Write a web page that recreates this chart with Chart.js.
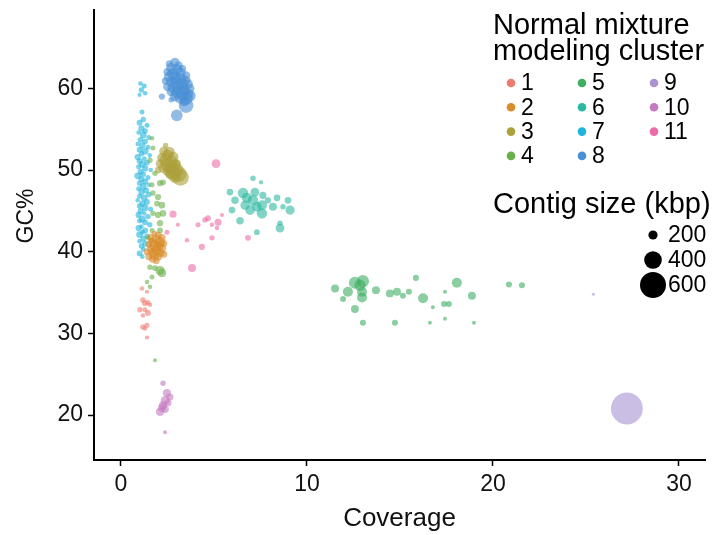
<!DOCTYPE html>
<html>
<head>
<meta charset="utf-8">
<script src="https://cdn.jsdelivr.net/npm/chart.js@4.4.1/dist/chart.umd.min.js"></script>
<style>
  html, body { margin: 0; padding: 0; background: #ffffff; }
  #wrap { width: 716px; height: 535px; position: relative; }
</style>
</head>
<body>
<div id="wrap"><canvas id="c" width="716" height="535"></canvas></div>
<script>
// ---------------- DATA ----------------
const clusterLabels = ['1','2','3','4','5','6','7','8','9','10','11'];
const xTicks = [0, 10, 20, 30];
const yTicks = [20, 30, 40, 50, 60];
const sizeLegendValues = [200, 400, 600];

// cluster 1
const c1Coverage = [1.13,1.40,1.18,1.45,1.29,1.56,1.02,1.29,1.45,1.18,1.40,1.18,1.29,1.40];
const c1GC = [35.5,35.1,34.1,33.8,33.7,33.5,32.9,32.9,32.5,32.2,31.0,30.8,30.6,29.5];
const c1Size = [90,80,110,100,120,90,110,100,120,90,100,110,90,80];
// cluster 2
const c2Coverage = [1.8,2.0,1.6,2.2,1.9,1.7,2.1,2.3,1.5,1.8,2.0,2.2,1.6,1.9,1.4,1.7,2.1,2.3,1.8,1.5,2.0,1.7,1.9,2.1,1.6];
const c2GC = [42.2,42.0,41.8,41.7,41.5,41.2,41.2,41.0,40.9,40.8,40.6,40.4,40.4,40.2,40.0,39.9,39.9,39.7,39.6,39.4,39.4,39.1,38.9,40.9,41.4];
const c2Size = [120,150,140,160,200,180,220,150,130,240,200,180,170,230,140,200,190,150,220,150,170,160,140,160,120];
// cluster 3
const c3Coverage = [2.4,2.3,2.6,2.5,2.2,2.8,2.4,2.7,2.1,2.5,2.9,2.3,2.7,3.0,2.5,2.8,3.1,3.2,2.9,2.6,2.0,3.0];
const c3GC = [53.0,52.3,52.2,51.8,51.5,51.6,51.2,51.0,50.8,50.6,50.6,50.3,50.2,50.0,49.9,49.6,49.5,49.1,49.2,49.5,50.0,50.8];
const c3Size = [110,200,240,260,210,240,280,300,190,300,260,240,280,300,220,320,360,380,280,190,140,170];
// cluster 4
const c4Coverage = [1.67,1.72,1.56,1.83,2.10,1.67,2.26,1.72,1.99,1.94,2.20,1.72,1.99,2.26,2.10,1.67,2.10,1.45,1.56,1.83,2.10,2.20,1.67,1.40,1.56,1.83];
const c4GC = [53.9,52.7,51.2,49.6,48.4,48.2,48.5,47.2,46.7,45.9,45.7,44.7,44.5,44.7,43.5,42.6,42.6,41.7,38.1,38.0,37.7,37.4,36.9,36.3,35.7,26.7];
const c4Size = [90,100,110,110,130,100,120,110,130,120,140,110,130,140,130,100,120,90,110,120,200,190,100,90,90,80];
// cluster 5
const c5Coverage = [11.51,12.20,12.58,13.01,12.85,12.96,12.96,11.94,12.58,13.71,14.46,14.84,15.16,15.48,15.86,16.24,16.77,17.42,17.37,17.63,18.06,18.87,13.01,14.73,16.61,17.42,18.98,20.86,21.56];
const c5GC = [35.5,35.1,36.2,36.4,35.9,35.1,34.4,34.2,33.0,35.3,34.9,35.1,34.6,35.1,36.8,34.3,33.2,35.1,33.6,33.6,36.2,34.6,31.3,31.3,31.3,31.8,31.3,36.0,35.9];
const c5Size = [170,220,270,270,250,220,220,124,170,170,170,170,124,124,124,220,76,76,124,124,220,170,124,124,76,76,76,124,124];
// cluster 6
const c6Coverage = [7.10,7.53,5.86,6.56,7.20,7.63,6.13,6.77,7.10,7.58,8.39,8.98,8.17,8.71,9.09,5.97,6.94,7.58,6.40,8.55,8.55,7.31,6.67,7.31,7.90];
const c6GC = [49.0,48.5,47.3,47.2,47.3,46.9,46.3,46.6,46.3,45.7,46.6,46.3,45.5,45.5,45.1,45.1,45.1,44.7,43.8,43.5,42.9,42.4,45.7,45.5,46.3];
const c6Size = [110,80,140,230,190,150,160,220,230,220,140,140,170,110,200,140,210,230,160,110,190,120,200,210,130];
// cluster 7
const c7Coverage = [1.05,1.25,1.1,1.3,1.0,1.13,1.2,1.0,1.4,1.1,1.3,0.95,1.2,1.5,1.05,1.3,0.9,1.15,1.45,1.0,1.3,1.1,1.55,0.9,1.25,1.0,1.4,1.15,0.95,1.3,1.6,1.05,1.2,0.9,1.45,1.1,1.3,1.0,1.5,1.2,0.95,1.35,1.1,1.5,1.0,1.25,0.9,1.4,1.15,1.0,1.3,1.6,1.05,1.25,0.95,1.45,1.15,1.0,1.3,1.55,1.1,0.95,1.3,1.15,1.0,1.4,1.2,1.0,1.3,1.1,1.2,1.0,1.15];
const c7GC = [60.6,60.3,59.8,59.4,59.2,57.1,56.2,55.8,55.5,55.1,54.8,54.6,54.3,54.0,53.7,53.5,53.2,53.0,52.8,52.5,52.3,52.0,51.8,51.6,51.4,51.1,50.9,50.7,50.4,50.2,50.0,49.8,49.5,49.3,49.1,48.9,48.6,48.4,48.2,48.0,47.7,47.5,47.3,47.0,46.8,46.6,46.3,46.1,45.9,45.6,45.4,45.2,45.0,44.7,44.5,44.3,44.0,43.8,43.6,43.3,43.1,42.9,42.6,42.4,42.1,41.9,41.6,41.3,41.0,40.7,40.3,39.8,39.4];
const c7Size = [90,100,110,90,80,100,110,120,100,130,110,90,140,100,120,110,90,130,100,120,140,110,90,130,100,120,110,140,100,130,90,120,110,140,100,130,120,110,90,140,100,120,130,110,100,140,90,120,130,110,140,100,120,90,130,110,140,100,120,110,90,130,120,100,140,110,120,90,130,110,100,120,90];
// cluster 8
const c8Coverage = [2.6,2.9,3.1,2.7,3.0,3.3,2.5,2.8,3.2,3.5,2.6,2.9,3.2,3.5,2.4,2.7,3.0,3.3,3.6,2.5,2.8,3.1,3.4,3.7,2.7,3.0,3.3,3.6,2.9,3.2,3.5,3.7,3.4,2.2,2.7,3.5,3.0];
const c8GC = [63.0,63.2,62.8,62.5,62.3,62.4,62.0,61.8,61.9,61.6,61.4,61.3,61.2,61.0,60.9,60.8,60.7,60.6,60.5,60.2,60.1,60.0,59.9,60.0,59.6,59.5,59.4,59.3,59.0,58.9,58.8,59.1,58.4,59.0,58.6,57.9,56.7];
const c8Size = [150,200,180,220,250,160,170,260,230,180,240,280,250,200,160,230,300,260,220,190,250,280,240,200,200,260,300,240,220,280,300,260,220,130,110,330,260];
// cluster 9
const c9Coverage = [25.4, 27.2];
const c9GC = [34.8, 20.8];
const c9Size = [55, 740];
// cluster 10
const c10Coverage = [2.26,2.47,2.63,2.37,2.26,2.53,2.20,2.10,2.37,2.37];
const c10GC = [23.9,22.7,22.2,21.8,21.2,21.5,20.9,20.4,20.7,17.9];
const c10Size = [110,170,150,190,170,150,170,180,160,80];
// cluster 11
const c11Coverage = [5.11,2.80,3.06,2.47,3.55,4.14,4.52,4.68,4.89,5.16,5.22,5.43,4.89,4.35,3.82,6.83];
const c11GC = [50.8,44.6,43.3,42.4,41.4,43.3,43.9,44.1,43.3,42.9,43.6,44.5,41.7,40.6,38.0,41.7];
const c11Size = [190,150,80,100,90,100,110,120,90,90,150,80,110,130,170,120];

// ---------------- STYLE ----------------
const clusterColors = ['#EE7B70','#D98C2A','#ABA03A','#6AB04A','#3DAE62','#2DB8A0','#1EB4DC','#4A90D6','#A993D2','#C47ABF','#EC6BA8'];
const FONT = '"Liberation Sans", Arial, Helvetica, sans-serif';

function radiusFor(kbp) { return 0.021 * kbp + 0.4; }
function withAlpha(hex, a) {
  const n = parseInt(hex.slice(1), 16);
  return `rgba(${(n>>16)&255},${(n>>8)&255},${n&255},${a})`;
}

const clusterCov = [c1Coverage,c2Coverage,c3Coverage,c4Coverage,c5Coverage,c6Coverage,c7Coverage,c8Coverage,c9Coverage,c10Coverage,c11Coverage];
const clusterGC = [c1GC,c2GC,c3GC,c4GC,c5GC,c6GC,c7GC,c8GC,c9GC,c10GC,c11GC];
const clusterSize = [c1Size,c2Size,c3Size,c4Size,c5Size,c6Size,c7Size,c8Size,c9Size,c10Size,c11Size];

const datasets = clusterLabels.map((lab, k) => ({
  label: lab,
  data: clusterCov[k].map((x, i) => ({ x: x, y: clusterGC[k][i], r: radiusFor(clusterSize[k][i]) })),
  backgroundColor: withAlpha(clusterColors[k], 0.6),
  borderWidth: 0,
  hoverBorderWidth: 0,
  hoverRadius: 0
}));

const legendPlugin = {
  id: 'ggLegend',
  afterDatasetsDraw(chart) {
    const ctx = chart.ctx;
    ctx.save();
    ctx.fillStyle = '#000';
    ctx.textAlign = 'left';
    ctx.textBaseline = 'alphabetic';
    ctx.font = '29px ' + FONT;
    ctx.fillText('Normal mixture', 493, 34);
    ctx.fillText('modeling cluster', 493, 60);
    const colDot = [511, 582, 654];
    ctx.font = '23px ' + FONT;
    ctx.textBaseline = 'middle';
    clusterLabels.forEach((lab, i) => {
      const col = Math.floor(i / 4), row = i % 4;
      const y = 83 + row * 24.3;
      ctx.beginPath();
      ctx.fillStyle = clusterColors[i];
      ctx.arc(colDot[col], y, 4.3, 0, Math.PI * 2);
      ctx.fill();
      ctx.fillStyle = '#000';
      ctx.fillText(lab, colDot[col] + 10, y + 1);
    });
    ctx.textBaseline = 'alphabetic';
    ctx.font = '29px ' + FONT;
    ctx.fillText('Contig size (kbp)', 493, 213);
    ctx.font = '23px ' + FONT;
    ctx.textBaseline = 'middle';
    sizeLegendValues.forEach((v, i) => {
      const y = 235 + i * 25;
      ctx.beginPath();
      ctx.fillStyle = '#000';
      ctx.arc(653, y, radiusFor(v), 0, Math.PI * 2);
      ctx.fill();
      ctx.fillText(String(v), 668, y + 1);
    });
    // y-axis title
    ctx.save();
    ctx.translate(27, 216);
    ctx.rotate(-Math.PI / 2);
    ctx.textAlign = 'center';
    ctx.textBaseline = 'middle';
    ctx.fillStyle = '#111';
    ctx.font = '23px ' + FONT;
    ctx.fillText('GC%', 0, 0);
    ctx.restore();
    ctx.restore();
  }
};

function fixPadding(s) { s.paddingTop = 0; s.paddingBottom = 0; s.paddingLeft = 0; s.paddingRight = 0; }

new Chart(document.getElementById('c'), {
  type: 'bubble',
  data: { datasets },
  options: {
    responsive: false,
    animation: false,
    events: [],
    layout: { autoPadding: false, padding: { top: 10, right: 11, left: 0, bottom: 0 } },
    plugins: { legend: { display: false }, tooltip: { enabled: false } },
    scales: {
      x: {
        type: 'linear',
        min: -1.45, max: 31.4,
        afterBuildTicks: (s) => { s.ticks = xTicks.map(v => ({ value: v })); },
        afterFit: (s) => { s.height = 75; fixPadding(s); },
        grid: { drawOnChartArea: false, drawTicks: true, tickLength: 6, tickColor: '#000', tickWidth: 1.5 },
        border: { display: true, color: '#000', width: 2 },
        ticks: { color: '#111', font: { family: FONT, size: 23 }, padding: 5, maxRotation: 0 },
        title: { display: true, text: 'Coverage', color: '#111', font: { family: FONT, size: 26 }, padding: { top: 0, bottom: 1 } }
      },
      y: {
        type: 'linear',
        min: 14.5, max: 69.6,
        afterBuildTicks: (s) => { s.ticks = yTicks.map(v => ({ value: v })); },
        afterFit: (s) => { s.width = 94; fixPadding(s); },
        grid: { drawOnChartArea: false, drawTicks: true, tickLength: 6, tickColor: '#000', tickWidth: 1.5 },
        border: { display: true, color: '#000', width: 2 },
        ticks: { color: '#111', font: { family: FONT, size: 23 }, padding: 5 },
        title: { display: false, text: 'GC%' }
      }
    }
  },
  plugins: [legendPlugin]
});
</script>
</body>
</html>
